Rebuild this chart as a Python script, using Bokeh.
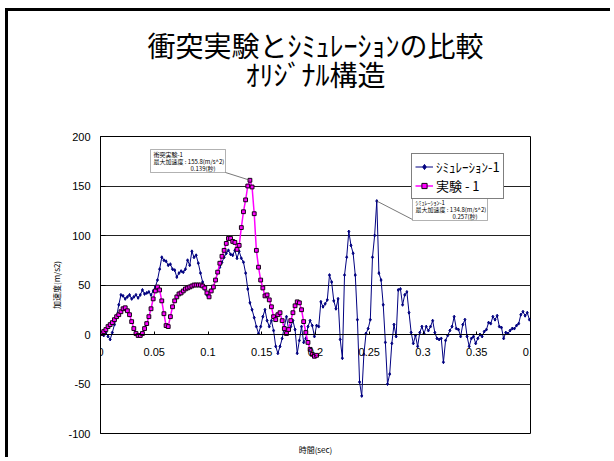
import numpy as np
from bokeh.plotting import figure
from bokeh.models import (FixedTicker, CustomJSTickFormatter, LinearAxis, Label,
                          BoxAnnotation, Range1d, ColumnDataSource, Title)
from bokeh.embed import file_html
from bokeh.resources import INLINE

# ---------------- data ----------------
TITLE1 = "衝突実験とｼﾐｭﾚｰｼｮﾝの比較"
TITLE2 = "ｵﾘｼﾞﾅﾙ構造"
X_LABEL = "時間(sec)"
Y_LABEL = "加速度(m/s2)"
SIM_NAME = "ｼﾐｭﾚｰｼｮﾝ-1"
EXP_NAME = "実験 - 1"
X_TICKS = [0, 0.05, 0.1, 0.15, 0.2, 0.25, 0.3, 0.35, 0.4]
Y_TICKS = [-100, -50, 0, 50, 100, 150, 200]

SIM_T0, SIM_DT = 0.001, 0.002
SIM_VALUES = [
    0, -1, 2, -2, -5, 2, 10, 18, 30, 40,
    39, 36, 38, 40, 36, 38, 40, 37, 40, 45,
    41, 42, 43, 40, 44, 48, 55, 66, 78, 75,
    74, 70, 71, 66, 65, 58, 62, 64, 63, 66,
    75, 70, 84, 78, 80, 72, 62, 53, 46, 40,
    39, 45, 48, 55, 63, 68, 73, 78, 82, 85,
    81, 80, 85, 77, 84, 77, 73, 62, 46, 32,
    25, 17, 8, 1, 8, 18, 25, 14, 8, 14,
    4, -12, -19, -12, -4, 8, 18, 5, 8, 14,
    5, -19, -6, 8, -8, -4, 8, 14, 9, -2,
    9, 8, 33, 28, 31, 35, 60, 53, 34, 26,
    36, -5, -24, 60, 78, 104, 90, 82, 60, 15,
    -48, -62, -20, 1, 6, 15, 78, 100, 134.8, 62,
    55, 30, -8, -50, -40, -9, 10, -2, 45, 46,
    30, 40, 43, 22, 2, -9, -1, -12, 2, 8,
    1, 8, 4, 8, 14, 2, -4, -5, -4, -28,
    -6, -1, 4, 8, 18, 6, 5, -2, 10, 15,
    -2, -12, -4, -2, -9, -4, 0, -2, 3, 5,
    12, 11, 18, 15, 19, 8, 7, -4, 2, 1,
    4, 6, 6, 9, 11, 20, 23, 19, 22, 15,
]

EXP_T0, EXP_DT = 0.001, 0.002
EXP_VALUES = [
    1, 3, 5, 8, 10, 12, 15, 18, 20, 23,
    26, 27, 24, 20, 13, 6, 1, -1, -1, 1,
    6, 11, 18, 26, 36, 44, 48, 45, 34, 21,
    9, 8, 18, 28, 34, 38, 41, 42, 44, 46,
    47, 48, 49, 50, 50, 50, 50, 49, 47, 42,
    38, 44, 48, 55, 63, 72, 79, 85, 92, 97,
    97, 94, 93, 86, 90, 108, 124, 136, 150, 155.8,
    149, 122, 85, 68, 55, 47, 39, 40, 35, 28,
    18, 15, 20, 22, 14, 6, 1, 5, 14, 22,
    29, 33, 32, 25, 13, 2, -8, -15, -20, -22,
    -21,
]

EXP_NOTE = ["衝突実験-1", "最大加速度 : 155.8(m/s^2)", "0.139(秒)"]
SIM_NOTE = ["ｼﾐｭﾚｰｼｮﾝ-1", "最大加速度 : 134.8(m/s^2)", "0.257(秒)"]

# ---------------- geometry helpers (page pixels -> data) ----------------
X0, X1, Y0, Y1 = 0.0, 0.4, -100.0, 200.0
FRAME_L, FRAME_T, FRAME_W, FRAME_H = 100, 136, 430, 297


def dx(px):
    return X0 + (px - FRAME_L) / FRAME_W * (X1 - X0)


def dy(py):
    return Y1 - (py - FRAME_T) / FRAME_H * (Y1 - Y0)


sim_t = SIM_T0 + SIM_DT * np.arange(len(SIM_VALUES))
exp_t = EXP_T0 + EXP_DT * np.arange(len(EXP_VALUES))
sim_src = ColumnDataSource(dict(t=sim_t, v=SIM_VALUES))
exp_src = ColumnDataSource(dict(t=exp_t, v=EXP_VALUES))

JP = "Noto Sans CJK JP"
LAT = "Liberation Sans"

p = figure(width=605, height=449, x_range=Range1d(X0, X1), y_range=Range1d(Y0, Y1),
           output_backend="svg", toolbar_location=None, title=None,
           min_border_left=92, min_border_right=83, min_border_top=125,
           min_border_bottom=27, background_fill_color="white",
           border_fill_color="white")
p.margin = (8, 0, 0, 5)
p.styles = {"border-top": "3px solid black", "border-left": "3px solid black"}
p.outline_line_color = "black"
p.outline_line_width = 1

num_fmt = CustomJSTickFormatter(code="return String(Math.round(tick*100)/100)")

# x axis crossing at y = 0
xa = p.xaxis[0]
xa.fixed_location = 0
xa.ticker = FixedTicker(ticks=X_TICKS)
xa.formatter = num_fmt
xa.major_tick_in = 3
xa.major_tick_out = 0
xa.minor_tick_in = 0
xa.minor_tick_out = 0
xa.axis_line_color = "black"
xa.major_label_standoff = 13
xa.major_label_text_font = LAT
xa.major_label_text_font_size = "11px"
xa.major_label_text_color = "black"

# separate axis just for the x label at the bottom
lab_axis = LinearAxis(ticker=FixedTicker(ticks=[]), axis_label=X_LABEL,
                      axis_line_color=None, major_tick_in=0, major_tick_out=0,
                      minor_tick_in=0, minor_tick_out=0, major_label_standoff=0,
                      axis_label_standoff=10, axis_label_text_font=JP,
                      axis_label_text_font_size="8px",
                      axis_label_text_font_style="normal",
                      axis_label_text_color="black")
p.add_layout(lab_axis, "below")

ya = p.yaxis[0]
ya.ticker = FixedTicker(ticks=Y_TICKS)
ya.formatter = CustomJSTickFormatter(code="return String(tick)")
ya.major_tick_in = 5
ya.major_tick_out = 0
ya.minor_tick_in = 0
ya.minor_tick_out = 0
ya.axis_line_color = "black"
ya.major_label_standoff = 10
ya.major_label_text_font = LAT
ya.major_label_text_font_size = "11px"
ya.major_label_text_color = "black"
ya.axis_label = Y_LABEL
ya.axis_label_text_font = JP
ya.axis_label_text_font_size = "8px"
ya.axis_label_text_font_style = "normal"
ya.axis_label_text_color = "black"
ya.axis_label_standoff = 3

p.xgrid.visible = False
p.ygrid.ticker = FixedTicker(ticks=Y_TICKS)
p.ygrid.grid_line_color = "#222222"
p.ygrid.grid_line_width = 1

# series
p.line("t", "v", source=sim_src, line_color="#000080", line_width=1, legend_label=SIM_NAME)
p.scatter("t", "v", source=sim_src, marker="diamond", size=3, line_color="#000080",
          fill_color="#000080", legend_label=SIM_NAME)
p.line("t", "v", source=exp_src, line_color="#FF00FF", line_width=1.5, legend_label=EXP_NAME)
p.scatter("t", "v", source=exp_src, marker="square", size=3.8, line_color="#140014",
          fill_color="#FF00FF", line_width=1, legend_label=EXP_NAME)

lg = p.legend[0]
lg.location = (311, 234)
lg.border_line_color = "black"
lg.border_line_width = 1.5
lg.background_fill_color = "white"
lg.background_fill_alpha = 1
lg.label_text_font = JP
lg.label_text_font_size = "13px"
lg.label_text_color = "black"
lg.padding = 3
lg.spacing = 0
lg.margin = 0
lg.glyph_width = 18
lg.glyph_height = 13
lg.label_height = 13
lg.label_standoff = 3

# two-line title (a trailing empty line reserves room so the block sits high)
p.add_layout(Title(text=TITLE1 + "\n" + TITLE2 + "\n", align="center",
                   vertical_align="top", standoff=23, text_font=JP,
                   text_font_size="28px", text_font_style="normal",
                   text_color="black", text_align="center", text_line_height=0.72),
             "above")

# peak call-outs
exp_i = int(np.argmax(EXP_VALUES))
sim_i = int(np.argmax(SIM_VALUES))
p.segment(x0=[dx(225), dx(412)], y0=[dy(172), dy(219)],
          x1=[exp_t[exp_i], sim_t[sim_i]], y1=[EXP_VALUES[exp_i], SIM_VALUES[sim_i]],
          line_color="#555555", line_width=0.8)

for (bl, bt, br, bb, lines, tx3) in [(150, 149, 225, 172, EXP_NOTE, 190),
                                     (412, 197, 487, 220, SIM_NOTE, 452)]:
    p.add_layout(BoxAnnotation(left=dx(bl), right=dx(br), top=dy(bt), bottom=dy(bb),
                               fill_color="white", fill_alpha=1, line_color="black",
                               line_width=1))
    for k, txt in enumerate(lines):
        px = bl + 3 if k < 2 else tx3
        p.add_layout(Label(x=dx(px), y=dy(bt + 4.5 + 7 * k), text=txt,
                           text_align="left", text_baseline="middle", text_font=JP,
                           text_font_size="6px", text_color="black"))

open("out.html", "w").write(file_html(p, INLINE))
